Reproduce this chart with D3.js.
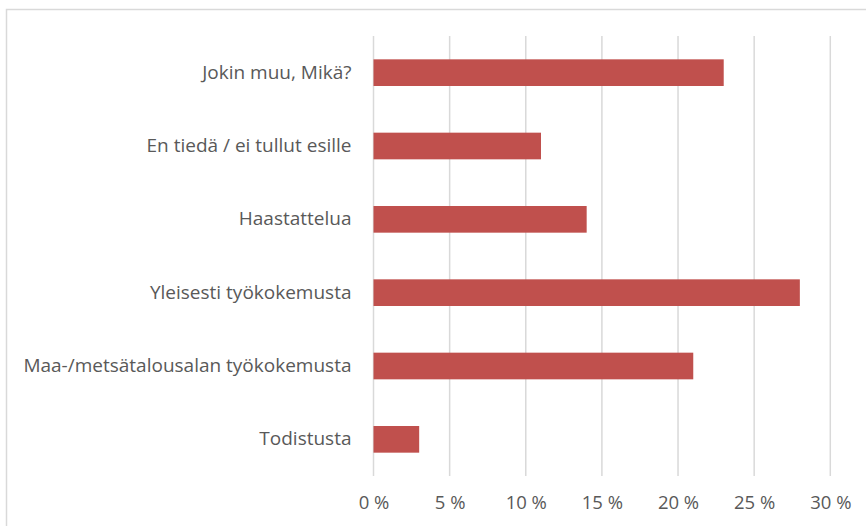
<!DOCTYPE html>
<html>
<head>
<meta charset="utf-8">
<script src="https://cdn.jsdelivr.net/npm/d3@7"></script>
<style>
  body { margin: 0; background: #fff; }
  svg text { font-family: "Open Sans", "DejaVu Sans", sans-serif; fill: #595959; }
</style>
</head>
<body>
<div id="chart"></div>
<script>
// vaakapylväskaavio

const categories = [
    "Jokin muu, Mikä?",
    "En tiedä / ei tullut esille",
    "Haastattelua",
    "Yleisesti työkokemusta",
    "Maa-/metsätalousalan työkokemusta",
    "Todistusta"
];
const values = [23, 11, 14, 28, 21, 3];  // prosenttia
const ticks = [0, 5, 10, 15, 20, 25, 30];

const width = 866, height = 526;
const margin = {top: 36, right: 36, bottom: 50, left: 373.5};

const svg = d3.select("#chart")
    .append("svg")
    .attr("width", width)
    .attr("height", height);

// kehys
svg.append("rect")
    .attr("x", 6.5)
    .attr("y", 9.5)
    .attr("width", width + 10)
    .attr("height", height + 10)
    .attr("fill", "none")
    .attr("stroke", "#d9d9d9")
    .attr("stroke-width", 1.5);

const x = d3.scaleLinear()
    .domain([0, 30])
    .range([margin.left, 830.3]);

const y = d3.scaleBand()
    .domain(categories)
    .range([margin.top, 476])
    .paddingInner(1.75 / 2.75)
    .paddingOuter(1.75 / 2.75 / 2);

// ruudukko
svg.append("g")
    .selectAll("line")
    .data(ticks)
    .enter().append("line")
    .attr("x1", d => x(d))
    .attr("x2", d => x(d))
    .attr("y1", margin.top)
    .attr("y2", 476)
    .attr("stroke", "#d9d9d9")
    .attr("stroke-width", 1.5);

// pylväät
svg.append("g")
    .selectAll("rect")
    .data(values)
    .enter().append("rect")
    .attr("x", x(0))
    .attr("y", (d, i) => y(categories[i]))
    .attr("width", d => x(d) - x(0))
    .attr("height", y.bandwidth())
    .attr("fill", "#c0504d");

// x-akselin tekstit
const xAxis = svg.append("g")
    .attr("transform", "translate(0,476)")
    .call(d3.axisBottom(x).tickValues(ticks).tickSize(0).tickPadding(20).tickFormat(d => d + " %"));
xAxis.select(".domain").remove();
xAxis.selectAll("text")
    .attr("font-size", "18.5px")
    .style("font-family", "\"Open Sans\", sans-serif")
    .attr("fill", "#595959");

// y-akselin tekstit
const yAxis = svg.append("g")
    .attr("transform", "translate(" + (margin.left - 22) + ",0)")
    .call(d3.axisLeft(y).tickSize(0).tickPadding(0));
yAxis.select(".domain").remove();
yAxis.selectAll("text")
    .attr("font-size", "19px")
    .style("font-family", "\"Open Sans\", sans-serif")
    .attr("fill", "#595959");
</script>
</body>
</html>
